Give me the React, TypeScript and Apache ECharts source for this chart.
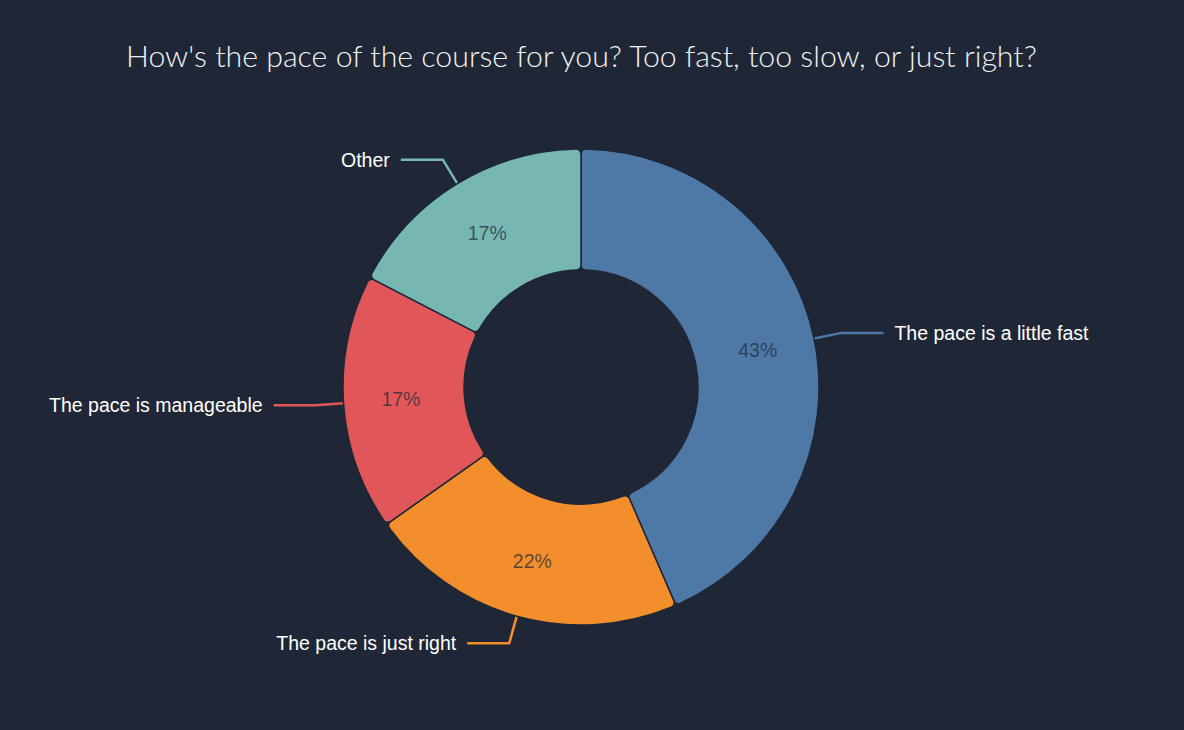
import { useEffect, useRef } from 'react'
import * as echarts from 'echarts'

const title = "How's the pace of the course for you? Too fast, too slow, or just right?"
const categories = ['The pace is a little fast', 'The pace is just right', 'The pace is manageable', 'Other']
const counts = [10, 5, 4, 4]
const colors = ['#4e79a7', '#f28e2c', '#e15759', '#76b7b2']

const BG = '#1f2737'

export default function App() {
  const chartRef = useRef<HTMLDivElement>(null)

  useEffect(() => {
    if (!chartRef.current) return
    const chart = echarts.init(chartRef.current, null, { renderer: 'svg' })

    const center = [581, 387]
    const radius = [117, 238]

    const option: Record<string, any> = {
      backgroundColor: BG,
      animation: false,
      title: {
        text: title,
        left: 121,
        top: 35,
        textStyle: {
          color: '#f2f2f2',
          fontSize: 30.3,
          fontWeight: 300,
          fontFamily: 'Lato, "Open Sans", sans-serif',
        },
      },
      series: [
        {
          type: 'pie',
          center,
          radius,
          startAngle: 90,
          clockwise: true,
          silent: true,
          avoidLabelOverlap: false,
          itemStyle: {
            borderRadius: 5,
            borderColor: BG,
            borderWidth: 1.5,
          },
          label: {
            show: true,
            position: 'inside',
            formatter: (p: any) => Math.round(p.percent) + '%',
            color: 'rgba(31, 39, 55, 0.72)',
            fontSize: 19.5,
            fontFamily: '"Liberation Sans", Arial, sans-serif',
          },
          labelLine: { show: false },
          data: categories.map((name, i) => ({
            name,
            value: counts[i],
            itemStyle: { color: colors[i] },
          })),
        },
        {
          type: 'pie',
          center,
          radius,
          startAngle: 90,
          clockwise: true,
          silent: true,
          avoidLabelOverlap: false,
          itemStyle: { color: 'rgba(0,0,0,0)', borderWidth: 0 },
          label: {
            show: true,
            position: 'outside',
            formatter: '{b}',
            color: '#ffffff',
            fontSize: 19.5,
            fontFamily: '"Liberation Sans", Arial, sans-serif',
            distanceToLabelLine: 11,
          },
          labelLine: {
            show: true,
            length: 28,
            length2: 42,
            lineStyle: { width: 2.5 },
          },
          data: categories.map((name, i) => ({
            name,
            value: counts[i],
            labelLine: { lineStyle: { color: colors[i], width: 2.5 } },
          })),
        },
      ],
    }

    chart.setOption(option)
    return () => {
      chart.dispose()
    }
  }, [])

  return (
    <div
      ref={chartRef}
      style={{ position: 'fixed', top: 0, left: 0, width: 1184, height: 730 }}
    />
  )
}
